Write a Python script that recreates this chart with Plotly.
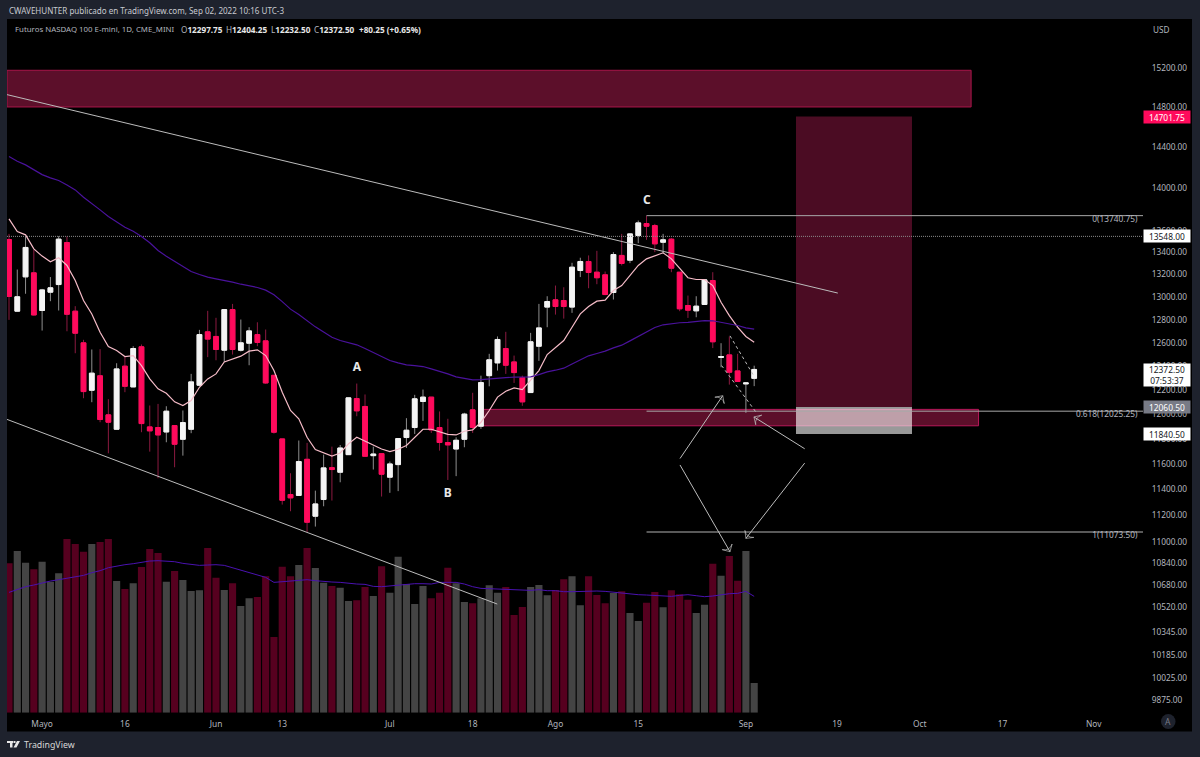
import math
import plotly.graph_objects as go

# daily bars, Apr 26 to Sep 2 2022 (bar index is used as x so non trading days drop out)
opens = [13519, 12874, 13179, 13215, 12880, 13042, 13110, 13491, 12874, 12599,
         12198, 12319, 11995, 11878, 12400, 12226, 12565, 11897, 11892, 11856,
         11908, 11797, 11878, 12240, 12694, 12654, 12536, 12888, 12536, 12596,
         12670, 12616, 12323, 11800, 11361, 11354, 11637, 11194, 11322, 11571,
         11535, 11674, 12129, 12064, 11666, 11682, 11496, 11595, 11811, 11892,
         12105, 12141, 11892, 11771, 11719, 11797, 12036, 11903, 12320, 12428,
         12550, 12436, 12304, 12179, 12570, 12910, 12974, 12968, 12910, 13236,
         13318, 13221, 13197, 13039, 13373, 13330, 13556, 13667, 13648, 13494,
         13522, 13221, 12924, 12877, 12933, 13146, 12474, 12496, 12360, 12251,
         12297.75]
highs = [13571, 13245, 13547, 13424, 13071, 13177, 13550, 13547, 12918, 12625,
         12542, 12545, 12124, 12425, 12482, 12570, 12585, 12072, 12085, 12066,
         11908, 12031, 12335, 12711, 12877, 12816, 12888, 12938, 12801, 12734,
         12777, 12714, 12323, 11800, 11527, 11787, 11768, 11391, 11674, 11738,
         11751, 12135, 12254, 12163, 11738, 11685, 11619, 11803, 11968, 12160,
         12204, 12141, 12023, 11963, 11813, 12012, 12177, 12320, 12505, 12654,
         12694, 12490, 12320, 12685, 12938, 13006, 13101, 13086, 13306, 13352,
         13373, 13415, 13227, 13403, 13571, 13577, 13695, 13740.75, 13664, 13571,
         13534, 13221, 13012, 13006, 13155, 13221, 12596, 12654, 12505, 12262,
         12404.25]
lows = [12798, 12874, 13028, 12835, 12705, 12962, 12880, 12699, 12510, 12132,
        12099, 11935, 11685, 11878, 12182, 12226, 11854, 11698, 11488, 11773,
        11574, 11666, 11846, 12237, 12477, 12450, 12436, 12499, 12525, 12408,
        12570, 12251, 11843, 11283, 11232, 11354, 11073.5, 11115, 11270, 11314,
        11456, 11674, 11984, 11661, 11556, 11345, 11374, 11387, 11727, 11840,
        11946, 11848, 11706, 11474, 11504, 11733, 11848, 11881, 12231, 12363,
        12335, 12259, 12069, 12177, 12445, 12734, 12844, 12809, 12859, 13177,
        13077, 13113, 13015, 12977, 13282, 13303, 13485, 13516, 13403, 13388,
        13221, 12874, 12815, 12821, 12930, 12554, 12391, 12245, 12271, 12011,
        12232.5]
closes = [13004, 13001, 13446, 12841, 13062, 13081, 13522, 12847, 12682, 12187,
          12341, 11957, 11935, 12377, 12231, 12550, 11924, 11865, 11832, 12025,
          11757, 11932, 12268, 12670, 12631, 12542, 12888, 12542, 12599, 12702,
          12602, 12259, 11854, 11316, 11335, 11619, 11148, 11288, 11569, 11556,
          11727, 12135, 12028, 11661, 11679, 11519, 11600, 11803, 11870, 12127,
          12141, 11873, 11771, 11752, 11789, 12001, 11892, 12262, 12454, 12628,
          12408, 12346, 12102, 12608, 12728, 12959, 12915, 12915, 13266, 13318,
          13218, 13171, 13021, 13381, 13300, 13571, 13673, 13642, 13479, 13516,
          13257, 12895, 12883, 12918, 13152, 12608, 12482, 12349, 12271, 12259,
          12372.5]
ma_fast = [13710, 13593, 13562, 13433, 13367, 13316, 13352, 13282, 13146, 12968,
           12850, 12690, 12568, 12533, 12482, 12490, 12405, 12293, 12210, 12173,
           12102, 12072, 12113, 12223, 12293, 12335, 12436, 12459, 12485, 12528,
           12539, 12490, 12363, 12182, 12031, 11963, 11813, 11714, 11687, 11663,
           11687, 11760, 11813, 11781, 11752, 11719, 11698, 11717, 11747, 11813,
           11878, 11878, 11859, 11837, 11832, 11862, 11873, 11935, 12031, 12141,
           12190, 12218, 12204, 12279, 12363, 12499, 12562, 12619, 12734, 12850,
           12915, 12962, 12971, 13057, 13101, 13191, 13282, 13342, 13373, 13397,
           13342, 13251, 13171, 13155, 13155, 13101, 12953, 12835, 12734, 12654,
           12605]
ma_slow = [14306, 14260, 14225, 14180, 14131, 14099, 14074, 14032, 13984, 13915,
           13858, 13795, 13733, 13680, 13633, 13596, 13547, 13489, 13418, 13366,
           13320, 13272, 13227, 13200, 13176, 13161, 13149, 13131, 13113, 13101,
           13084, 13060, 13019, 12958, 12892, 12845, 12792, 12737, 12693, 12647,
           12619, 12599, 12582, 12550, 12516, 12482, 12448, 12428, 12411, 12405,
           12397, 12377, 12358, 12335, 12310, 12296, 12285, 12287, 12293, 12302,
           12304, 12307, 12307, 12310, 12329, 12352, 12366, 12383, 12419, 12454,
           12488, 12508, 12528, 12556, 12579, 12616, 12654, 12691, 12732, 12755,
           12767, 12773, 12776, 12781, 12792, 12790, 12778, 12767, 12749, 12729,
           12717]
# volume in thousands of contracts
volume = [448, 485, 450, 430, 453, 393, 418, 521, 506, 483,
          506, 512, 521, 395, 371, 388, 437, 491, 479, 393,
          425, 398, 365, 367, 494, 405, 368, 388, 320, 343,
          347, 409, 227, 438, 409, 443, 494, 434, 390, 380,
          375, 335, 337, 377, 350, 439, 360, 468, 386, 326,
          380, 343, 360, 435, 388, 332, 328, 343, 382, 360,
          377, 293, 317, 377, 383, 352, 368, 400, 409, 322,
          409, 353, 328, 359, 364, 299, 275, 330, 362, 316,
          367, 355, 339, 299, 324, 447, 411, 470, 396, 485,
          89]
volume_ma = [361, 370, 378, 383, 390, 395, 399, 403, 407, 412,
             420, 426, 435, 440, 444, 447, 451, 455, 456, 454,
             453, 448, 444, 442, 443, 444, 442, 435, 426, 420,
             414, 406, 391, 393, 395, 398, 399, 396, 393, 392,
             391, 388, 386, 385, 379, 378, 380, 383, 386, 387,
             387, 386, 391, 391, 391, 386, 378, 373, 372, 370,
             370, 368, 368, 367, 369, 366, 366, 363, 363, 364,
             365, 365, 364, 361, 358, 357, 354, 353, 351, 350,
             349, 352, 354, 351, 348, 350, 354, 357, 358, 364,
             349]

price_ticks = [15200, 14800, 14400, 14000, 13600, 13400, 13200, 13000, 12800, 12600,
               12400, 12200, 12000, 11800, 11600, 11400, 11200, 11000, 10840, 10680,
               10520, 10345, 10185, 10025, 9875]
time_tick_bars = [4, 14, 25, 33, 46, 56, 66, 76, 89, 100, 110, 120, 131]
time_tick_labels = ['Mayo', '16', 'Jun', '13', 'Jul', '18', 'Ago', '15', 'Sep', '19', 'Oct', '17', 'Nov']

bars = list(range(len(closes)))
body_hi = [max(o, c) for o, c in zip(opens, closes)]
body_lo = [min(o, c) for o, c in zip(opens, closes)]
vol_colors = ['#444444' if c >= o else '#56001f' for o, c in zip(opens, closes)]

FONT = 'Noto Sans'
TXT = '#b2b5be'
RED = '#ff0a5c'
DRAW = '#bcbcbc'
WIDTH, HEIGHT = 1200, 757


def px_x(p):
    return p / WIDTH


def px_y(p):
    return 1 - p / HEIGHT


def line(x, y, color=DRAW, width=1, dash='solid'):
    return go.Scatter(x=x, y=y, mode='lines', yaxis='y2', hoverinfo='skip',
                      line=dict(color=color, width=width, dash=dash))


def arrow(x, y):
    return go.Scatter(x=x, y=y, mode='lines+markers', yaxis='y2', hoverinfo='skip',
                      line=dict(color=DRAW, width=1),
                      marker=dict(symbol='arrow-wide-open', angleref='previous', size=[0, 8],
                                  color=DRAW, line=dict(color=DRAW, width=1)))


def label(x, y, text, pos='middle center', size=8.3, color=TXT):
    return go.Scatter(x=[x], y=[y], mode='text', yaxis='y2', text=[text], textposition=pos,
                      hoverinfo='skip', textfont=dict(family=FONT, size=size, color=color))


traces = [
    go.Bar(x=bars, y=volume, marker=dict(color=vol_colors, line=dict(width=0)), width=0.86,
           hoverinfo='skip'),
    go.Scatter(x=bars, y=volume_ma, mode='lines', line=dict(color='#4a12b0', width=1), hoverinfo='skip'),
    # trendlines
    line([-0.24, 100.1], [14923, 13034]),
    line([-0.24, 58.97], [11958, 10543]),
    # last price / fib levels
    line([-0.24, 137], [13548, 13548], color='#8a8a8a', dash='1px,1px'),
    line([77, 137], [13740.75, 13740.75], color='#a8a8a8'),
    line([77, 137], [12025.25, 12025.25], color='#a8a8a8'),
    line([77, 137], [11073.5, 11073.5], color='#777777', width=1.5),
    # wicks and bodies as separate candles, wicks are dimmer in the original
    go.Candlestick(x=bars, open=opens, high=highs, low=lows, close=closes, yaxis='y2', hoverinfo='skip',
                   increasing=dict(line=dict(color='#8f8f8f', width=1), fillcolor='#8f8f8f'),
                   decreasing=dict(line=dict(color='#8c1a40', width=1), fillcolor='#8c1a40')),
    go.Candlestick(x=bars, open=opens, high=body_hi, low=body_lo, close=closes, yaxis='y2', hoverinfo='skip',
                   increasing=dict(line=dict(color='#f4f4f4', width=1), fillcolor='#f4f4f4'),
                   decreasing=dict(line=dict(color=RED, width=1), fillcolor=RED)),
    go.Scatter(x=bars, y=ma_fast, mode='lines', yaxis='y2', line=dict(color='#f6bcc8', width=1.2), hoverinfo='skip'),
    go.Scatter(x=bars, y=ma_slow, mode='lines', yaxis='y2', line=dict(color='#4a129c', width=1.2), hoverinfo='skip'),
    # hand drawn dashes and arrows
    line([86.07, 90.2], [12405, 12019], dash='3px,3px'),
    line([87.08, 89.89], [12659, 12326], dash='3px,3px'),
    arrow([81.04, 86.2], [11643, 12153]),
    arrow([96.1, 89.97], [11721, 11978]),
    arrow([81.04, 87.08], [11592, 10926]),
    arrow([96.1, 89.0], [11607, 11026]),
    label(42.03, 12385, '<b>A</b>', size=12, color='#e8e8e8'),
    label(53.0, 11365, '<b>B</b>', size=12, color='#e8e8e8'),
    label(77.05, 13879, '<b>C</b>', size=12, color='#e8e8e8'),
    label(136.3, 13740.75, '0(13740.75)', 'bottom left'),
    label(136.3, 12025.25, '0.618(12025.25)', 'bottom left'),
    label(136.3, 11073.5, '1(11073.50)', 'bottom left'),
]
fig = go.Figure(data=traces)


def rect_price(x0, x1, y0, y1, fill, border=None):
    return dict(type='rect', xref='x', yref='y2', x0=x0, x1=x1, y0=y0, y1=y1, layer='below',
                fillcolor=fill, line=dict(color=border or fill, width=1 if border else 0))


def rect_px(x0, x1, y0, y1, fill):
    return dict(type='rect', xref='paper', yref='paper', x0=px_x(x0), x1=px_x(x1),
                y0=px_y(y0), y1=px_y(y1), layer='below', fillcolor=fill, line=dict(width=0))


shapes = [
    rect_px(7, 1192, 19, 731.5, '#000000'),
    rect_price(95.05, 109.06, 12060.5, 14701.75, '#4b0c23'),
    rect_price(-0.24, 116.2, 14798, 15173, '#5c0f2a', '#a8154a'),
    rect_price(57, 117.1, 11906, 12040, '#5c0f2a', '#b8185a'),
    rect_price(95.05, 109.06, 11840.5, 12060.5, 'rgba(255,255,255,0.6)'),
    # tv logo
    rect_px(7, 13, 741, 743, '#e8e8e8'),
    rect_px(10, 12.5, 743, 747.5, '#e8e8e8'),
    rect_px(13.5, 15.5, 741, 743, '#e8e8e8'),
    dict(type='path', xref='paper', yref='paper', layer='below', fillcolor='#e8e8e8', line=dict(width=0),
         path=f'M {px_x(17)} {px_y(741)} L {px_x(20)} {px_y(741)} L {px_x(16.5)} {px_y(747.5)} '
              f'L {px_x(13.5)} {px_y(747.5)} Z'),
    dict(type='circle', xref='paper', yref='paper', layer='below', fillcolor='#1e222d', line=dict(width=0),
         x0=px_x(1161), x1=px_x(1175.5), y0=px_y(714), y1=px_y(729)),
]


def price_box(price, text, bg, fg, h=12, y_price=None):
    return dict(xref='paper', yref='y2', x=px_x(1143), y=math.log10(y_price or price), xanchor='left', yanchor='middle',
                text=text, showarrow=False, width=46, height=h, bgcolor=bg, borderpad=0, align='center',
                font=dict(family=FONT, size=8.4, color=fg))


def page_text(x, y, text, size=8.2, color=TXT, anchor='left'):
    return dict(xref='paper', yref='paper', x=px_x(x), y=px_y(y), text=text, showarrow=False,
                xanchor=anchor, yanchor='middle', font=dict(family=FONT, size=size, color=color))


annotations = [
    price_box(14701.75, '14701.75', RED, '#ffffff'),
    price_box(13548, '13548.00', '#ffffff', '#131722'),
    price_box(12372.5, '12372.50<br>07:53:37', '#ffffff', '#131722', h=22, y_price=12325),
    price_box(12060.5, '12060.50', '#787b86', '#ffffff'),
    price_box(11840.5, '11840.50', '#ffffff', '#131722'),
    page_text(7, 10, 'CWAVEHUNTER publicado en TradingView.com, Sep 02, 2022 10:16 UTC-3', size=8.05, color='#c8cad0'),
    page_text(13, 29, 'Futuros NASDAQ 100 E-mini, 1D, CME_MINI', size=7.85),
    page_text(179, 29, 'O<b style="color:#e8e8e8">12297.75</b>'),
    page_text(224, 29, 'H<b style="color:#e8e8e8">12404.25</b>'),
    page_text(268.5, 29, 'L<b style="color:#e8e8e8">12232.50</b>'),
    page_text(312, 29, 'C<b style="color:#e8e8e8">12372.50</b>'),
    page_text(356.5, 29, '<b style="color:#e8e8e8">+80.25 (+0.65%)</b>'),
    page_text(1151, 29, 'USD'),
    page_text(22, 745, 'TradingView', size=8.8, color='#d8d8d8'),
    page_text(1168, 721.5, 'A', size=8.5, color='#787b86', anchor='center'),
]

fig.update_layout(
    width=WIDTH, height=HEIGHT,
    margin=dict(l=0, r=0, t=0, b=0),
    paper_bgcolor='#1e222d', plot_bgcolor='rgba(0,0,0,0)',
    showlegend=False, barmode='overlay', boxgap=0.18,
    shapes=shapes, annotations=annotations,
    xaxis=dict(domain=[px_x(7), px_x(1143)], range=[-0.2415, 136.96], anchor='y',
               tickvals=time_tick_bars, ticktext=time_tick_labels, showgrid=False, zeroline=False,
               showline=False, ticks='outside', ticklen=3, tickcolor='rgba(0,0,0,0)',
               tickfont=dict(family=FONT, size=8.4, color=TXT), automargin=False,
               rangeslider=dict(visible=False)),
    # volume sits on the primary axis so it stays behind the price traces
    yaxis=dict(domain=[px_y(712.7), px_y(19)], range=[0, 2081], visible=False, fixedrange=True),
    yaxis2=dict(domain=[px_y(712.7), px_y(19)], overlaying='y', side='right', anchor='x', type='log',
                range=[math.log10(9790), math.log10(15713)], tickmode='array', tickvals=price_ticks,
                tickformat='.2f', showgrid=False, zeroline=False, showline=False, ticks='outside',
                ticklen=6, tickcolor='rgba(0,0,0,0)', tickfont=dict(family=FONT, size=8.3, color=TXT),
                automargin=False),
)

fig.write_html("out.html", config={'displayModeBar': False}, post_script="document.body.style.margin='0';")
